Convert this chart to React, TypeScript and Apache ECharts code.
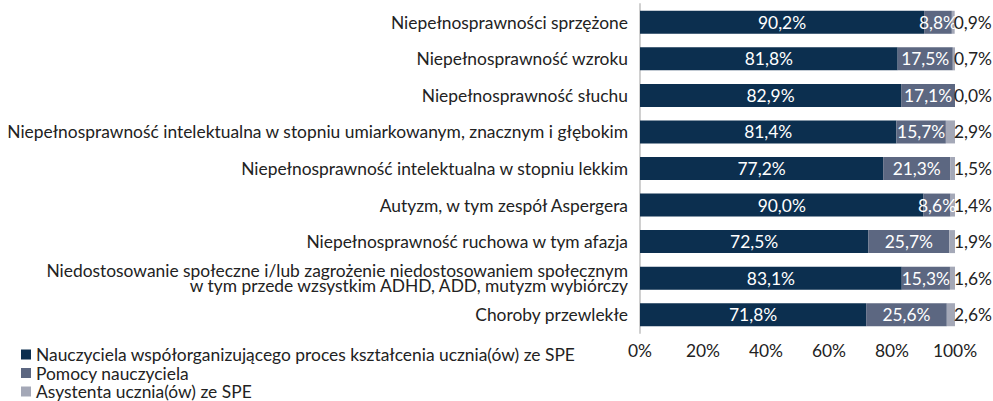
import React, { useEffect, useRef } from "react";
import * as echarts from "echarts";

const categories = [
  "Niepełnosprawności sprzężone",
  "Niepełnosprawność wzroku",
  "Niepełnosprawność słuchu",
  "Niepełnosprawność intelektualna w stopniu umiarkowanym, znacznym i głębokim",
  "Niepełnosprawność intelektualna w stopniu lekkim",
  "Autyzm, w tym zespół Aspergera",
  "Niepełnosprawność ruchowa w tym afazja",
  "Niedostosowanie społeczne i/lub zagrożenie niedostosowaniem społecznym\nw tym przede wzsystkim ADHD, ADD, mutyzm wybiórczy",
  "Choroby przewlekłe",
];

const seriesNames = [
  "Nauczyciela współorganizującego proces kształcenia ucznia(ów) ze SPE",
  "Pomocy nauczyciela",
  "Asystenta ucznia(ów) ze SPE",
];

const teacher = [90.2, 81.8, 82.9, 81.4, 77.2, 90.0, 72.5, 83.1, 71.8];
const helper = [8.8, 17.5, 17.1, 15.7, 21.3, 8.6, 25.7, 15.3, 25.6];
const assistant = [0.9, 0.7, 0.0, 2.9, 1.5, 1.4, 1.9, 1.6, 2.6];

const colors = ["#0c2f4f", "#5c6781", "#a4a8b7"];
const FONT = "Lato";
const FS = 17.4;

const fmt = (v: number) => v.toFixed(1).replace(".", ",") + "%";

export default function App() {
  const ref = useRef<HTMLDivElement>(null);
  useEffect(() => {
    document.body.style.margin = "0";
    if (!ref.current) return;
    const chart = echarts.init(ref.current, null, { renderer: "svg" });
    const datasets = [teacher, helper, assistant];
    chart.setOption({
      animation: false,
      textStyle: { fontFamily: FONT },
      grid: { left: 640, right: 38, top: 4, bottom: 68 },
      legend: {
        orient: "vertical",
        left: 21,
        top: 346,
        height: 80,
        padding: 0,
        itemWidth: 10,
        itemHeight: 10,
        itemGap: 1.5,
        icon: "rect",
        textStyle: { fontFamily: FONT, fontSize: FS, lineHeight: 14, color: "#222" },
        data: seriesNames,
      },
      xAxis: {
        type: "value",
        min: 0,
        max: 100,
        interval: 20,
        splitLine: { show: false },
        axisLine: { show: false },
        axisTick: { show: false },
        axisLabel: {
          formatter: (v: number) => v + "%",
          fontFamily: FONT,
          fontSize: FS,
          color: "#222",
          margin: 9,
        },
      },
      yAxis: {
        type: "category",
        inverse: true,
        data: categories,
        axisLine: { show: true, lineStyle: { color: "#d0d0d0", width: 2 } },
        axisTick: { show: false },
        axisLabel: {
          fontFamily: FONT,
          fontSize: FS,
          color: "#222",
          margin: 12,
          lineHeight: 15,
          align: "right",
        },
      },
      series: datasets.map((d, i) => ({
        name: seriesNames[i],
        type: "bar",
        stack: "total",
        barWidth: 23,
        itemStyle: { color: colors[i] },
        data: d,
        label: {
          show: true,
          position: i === 2 ? "right" : "inside",
          distance: -1,
          color: i === 2 ? "#222" : "#fff",
          fontFamily: FONT,
          fontSize: FS,
          formatter: (p: any) => fmt(p.value),
        },
      })),
    });
    return () => chart.dispose();
  }, []);
  return <div ref={ref} style={{ width: 993, height: 401 }} />;
}
